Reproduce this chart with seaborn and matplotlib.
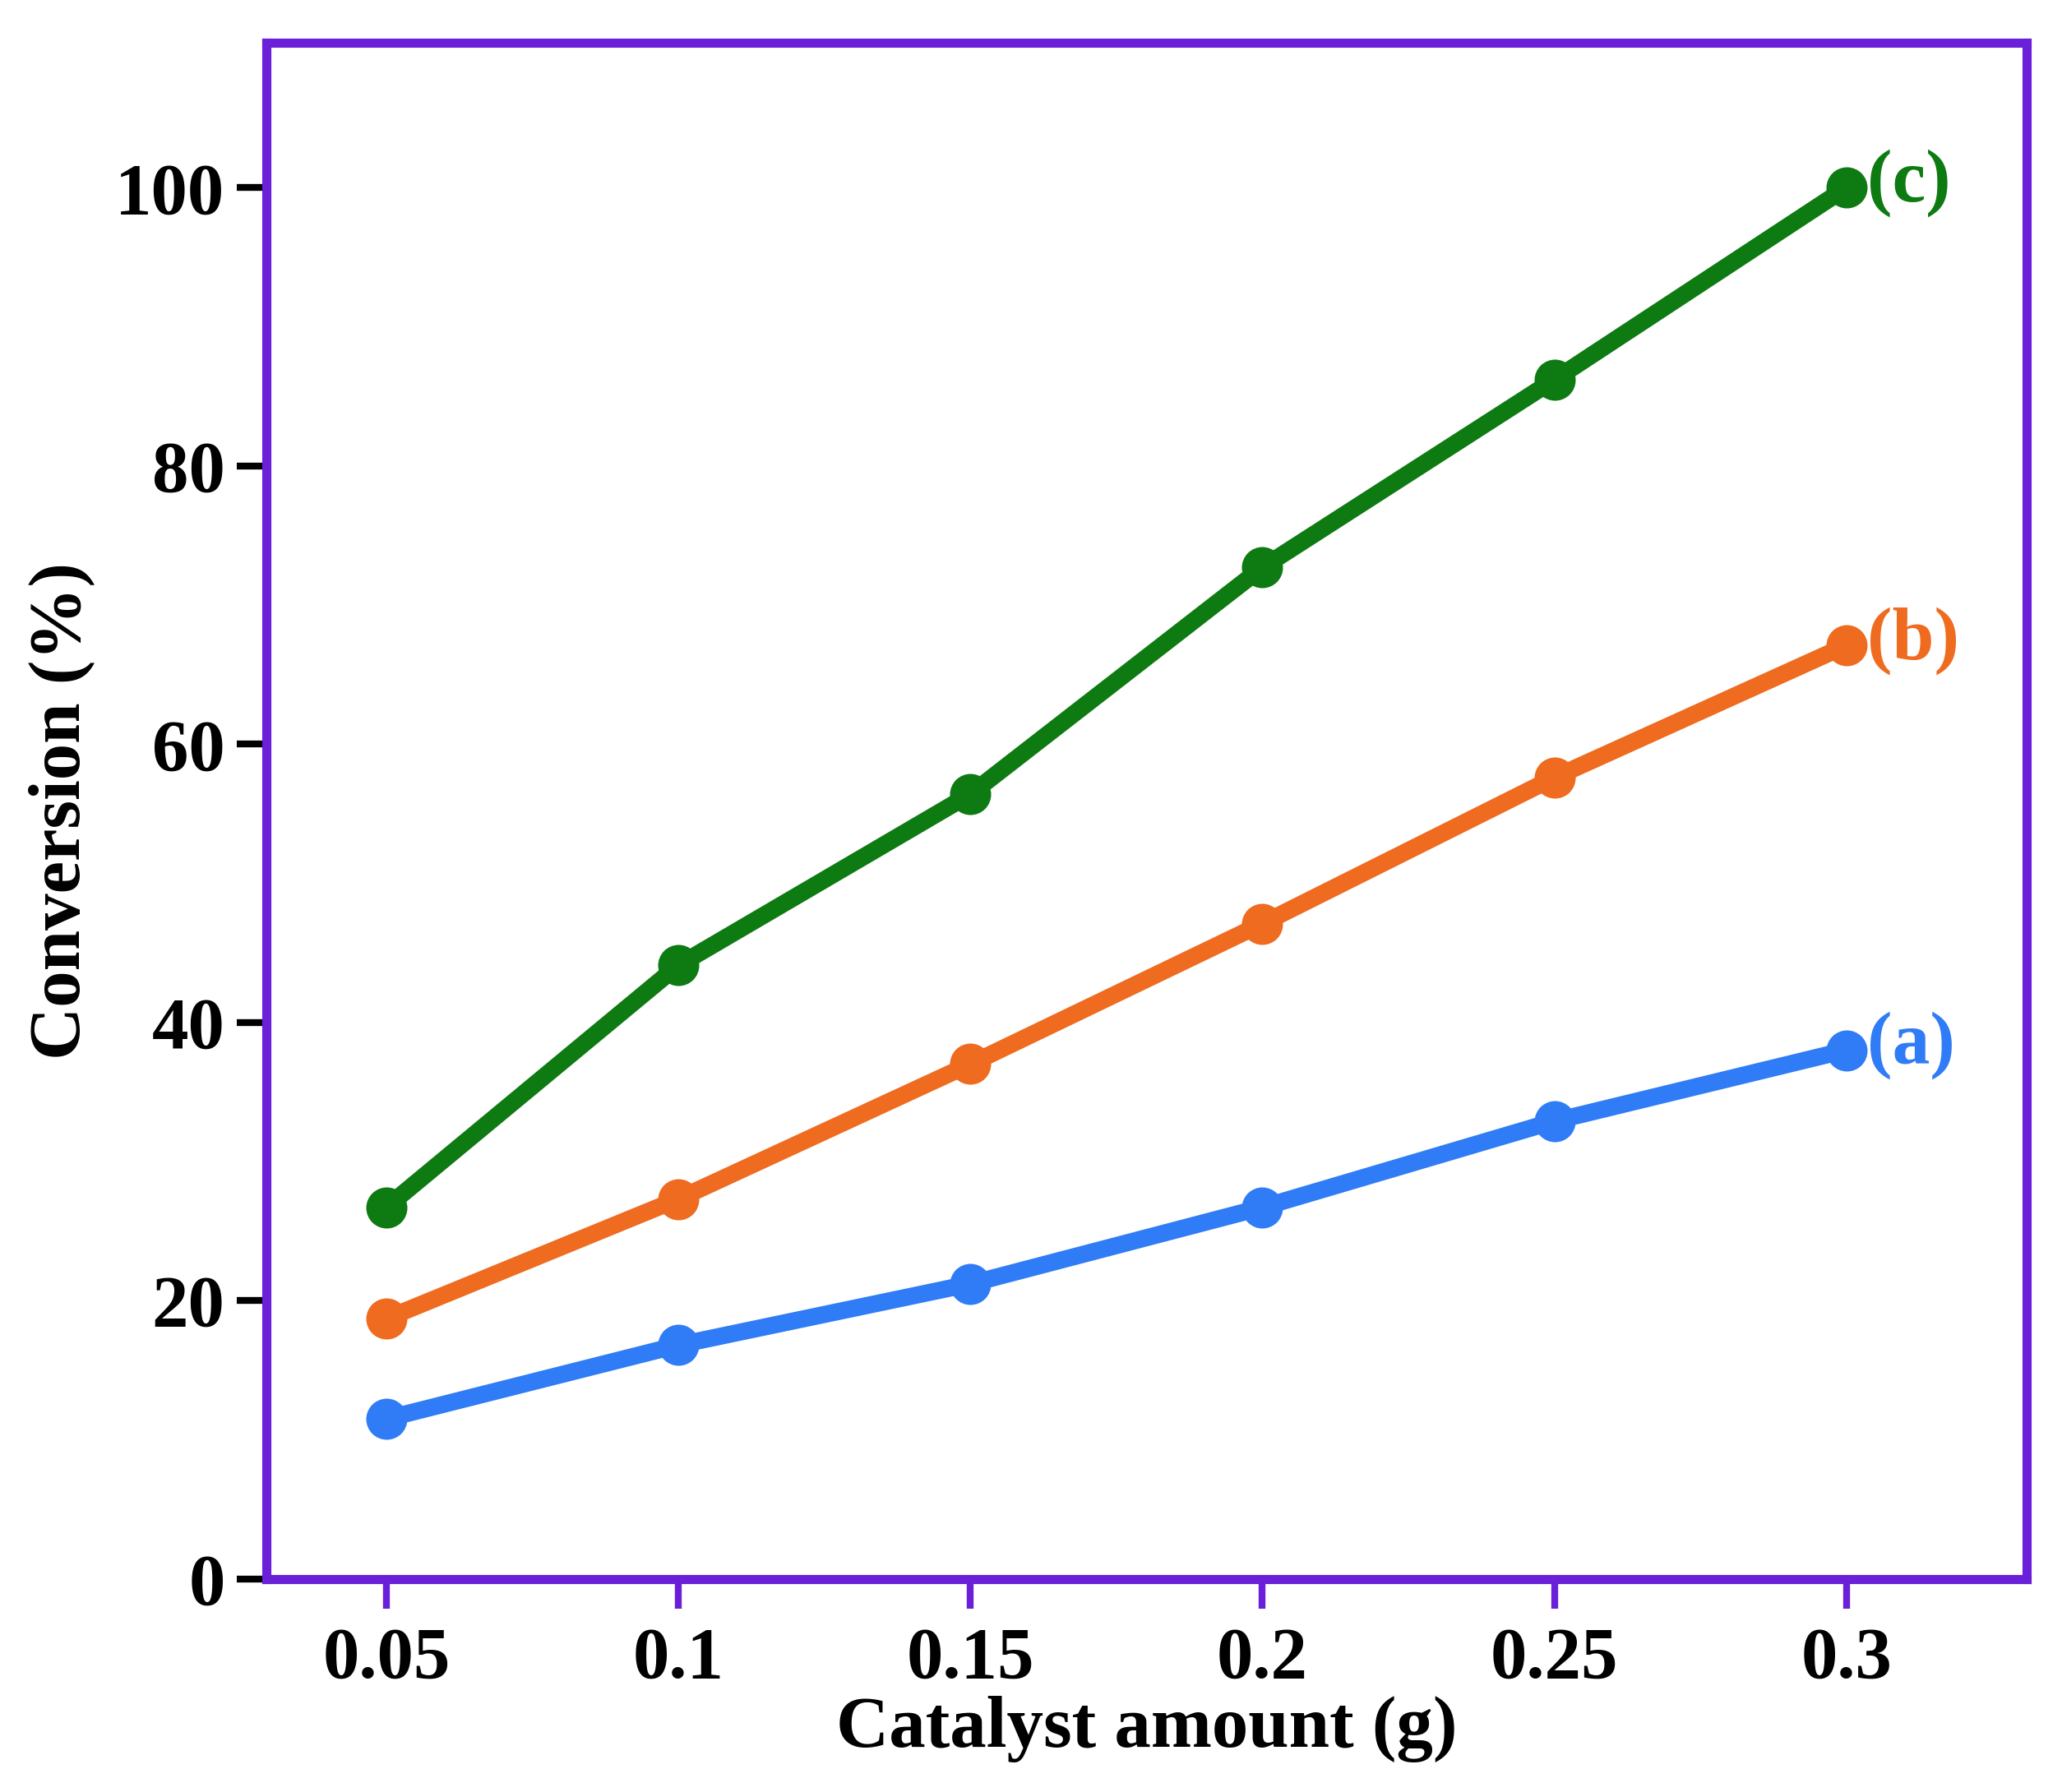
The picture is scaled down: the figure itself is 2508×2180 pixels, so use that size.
import pandas as pd
import seaborn as sns
import matplotlib.pyplot as plt

catalyst = [0.05, 0.1, 0.15, 0.2, 0.25, 0.3]
conv_a = [11.5, 16.8, 21.2, 26.7, 32.9, 38.0]
conv_b = [18.7, 27.3, 37.0, 47.1, 57.6, 67.1]
conv_c = [26.7, 44.1, 56.4, 72.7, 86.2, 100.0]
series_labels = ["(a)", "(b)", "(c)"]
colors = ["#2f7cf6", "#ee6b1f", "#0e7a12"]

df = pd.DataFrame({"x": catalyst * 3,
                   "y": conv_a + conv_b + conv_c,
                   "s": [l for l in series_labels for _ in catalyst]})

sns.set_style("white", {"xtick.bottom": True, "ytick.left": True,
                        "text.color": "black", "axes.labelcolor": "black",
                        "xtick.color": "black", "ytick.color": "black"})
plt.rcParams['font.family'] = ['Liberation Serif', 'DejaVu Serif']
plt.rcParams['font.weight'] = 'bold'

fig = plt.figure(figsize=(25.08, 21.8), dpi=100)
ax = fig.add_axes([0.129, 0.119, 0.854, 0.857])

sns.lineplot(data=df, x="x", y="y", hue="s", palette=colors, marker="o",
             linewidth=15, markersize=36, markeredgewidth=0, legend=False, ax=ax)

for vals, lab, c in zip([conv_a, conv_b, conv_c], series_labels, colors):
    ax.annotate(lab, (catalyst[-1], vals[-1]), xytext=(18, 4), textcoords="offset points",
                color=c, fontsize=66, fontweight="bold", va="center", ha="left")

ax.set_xlim(0.0294, 0.3309)
ax.set_ylim(0, 110.4)
ax.set_xticks(catalyst)
ax.set_xticklabels(["0.05", "0.1", "0.15", "0.2", "0.25", "0.3"])
ax.set_yticks([0, 20, 40, 60, 80, 100])
ax.tick_params(axis="both", labelsize=64, length=26, width=6, direction="out",
               labelcolor="black", pad=10)
ax.tick_params(axis="x", color="#6a1fd8", pad=16)
ax.tick_params(axis="y", color="black")
for lab in ax.get_xticklabels() + ax.get_yticklabels():
    lab.set_fontweight("bold")
for sp in ax.spines.values():
    sp.set_color("#6a1fd8")
    sp.set_linewidth(8)
ax.set_xlabel("Catalyst amount (g)", fontsize=64, fontweight="bold", labelpad=2, color="black")
ax.set_ylabel("Conversion (%)", fontsize=64, fontweight="bold", labelpad=18, color="black")

fig.savefig("out.png", dpi=100)
